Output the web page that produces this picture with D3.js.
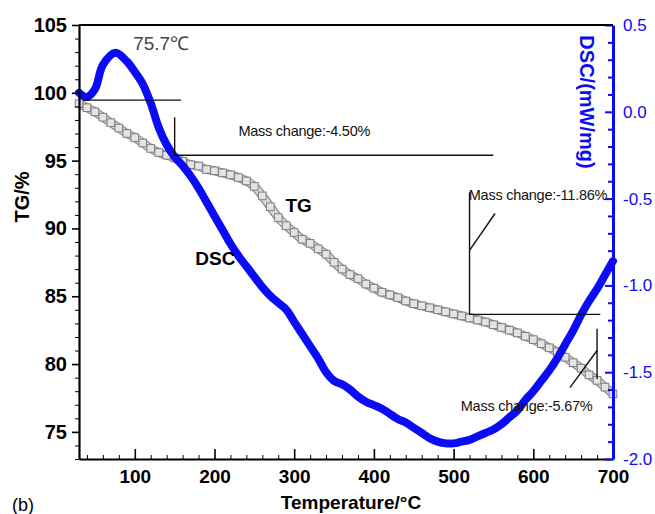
<!DOCTYPE html>
<html lang="en">
<head>
<meta charset="utf-8">
<title>TG / DSC</title>
<script src="https://cdn.jsdelivr.net/npm/d3@7"></script>
<style>
  body { margin: 0; background: #fff; }
  text { font-family: Arial, "Liberation Sans", sans-serif; }
</style>
</head>
<body>
<script>
// TG curve, one reading every 10 C
var tgTemp = [30,40,50,60,70,80,90,100,110,120,130,140,150,160,170,180,190,200,210,220,
  230,240,250,260,270,280,290,300,310,320,330,340,350,360,370,380,390,400,410,420,
  430,440,450,460,470,480,490,500,510,520,530,540,550,560,570,580,590,600,610,620,
  630,640,650,660,670,680,690,700];
var tgValue = [99.2,98.9,98.6,98.2,97.8,97.4,97.0,96.7,96.3,95.9,95.6,95.4,95.2,94.95,94.7,94.6,94.35,94.25,94.1,93.95,
  93.75,93.5,93.1,92.4,91.6,90.8,90.2,89.7,89.2,88.9,88.5,88.1,87.5,87.0,86.6,86.3,85.9,85.6,85.3,85.1,
  84.9,84.65,84.45,84.3,84.15,84.0,83.85,83.7,83.55,83.4,83.25,83.1,82.9,82.7,82.5,82.3,82.05,81.8,81.5,81.2,
  80.9,80.5,80.1,79.7,79.2,78.8,78.3,77.8];

// DSC curve
var dscTemp = [30,40,50,60,75.7,90,100,110,120,130,140,150,160,170,180,190,200,210,220,230,
  240,250,260,270,280,290,300,310,320,330,340,350,360,370,380,390,400,410,420,430,
  440,450,460,470,480,490,500,510,520,530,540,550,560,570,580,590,600,610,620,630,
  640,650,660,670,680,690,700];
var dscValue = [0.11,0.085,0.13,0.27,0.34,0.29,0.23,0.16,0.05,-0.09,-0.19,-0.26,-0.31,-0.37,-0.44,-0.52,-0.60,-0.68,-0.76,-0.83,
  -0.89,-0.95,-1.01,-1.06,-1.10,-1.14,-1.21,-1.28,-1.35,-1.42,-1.50,-1.55,-1.57,-1.60,-1.64,-1.67,-1.69,-1.71,-1.74,-1.77,
  -1.79,-1.82,-1.85,-1.88,-1.90,-1.91,-1.91,-1.90,-1.89,-1.87,-1.85,-1.83,-1.80,-1.76,-1.72,-1.66,-1.61,-1.55,-1.49,-1.42,
  -1.34,-1.26,-1.17,-1.09,-1.02,-0.94,-0.86];

var xTicks = [100,200,300,400,500,600,700];
var tgTicks = [75,80,85,90,95,100,105];
var dscTicks = [-2.0,-1.5,-1.0,-0.5,0.0,0.5];

// annotation segments, in [temperature, TG] units
var markLines = [
  [[35,99.46],[158,99.46]],
  [[150,98.2],[150,95.4]],
  [[150,95.4],[550,95.4]],
  [[520,92.67],[520,83.66]],
  [[520,83.66],[684,83.66]],
  [[520,88.38],[552,91.1]],
  [[680,82.6],[680,78.9]],
  [[646,78.26],[680,81.0]]
];
var markTexts = [
  {t: 230, v: 96.8, label: "Mass change:-4.50%"},
  {t: 519, v: 92.1, label: "Mass change:-11.86%"},
  {t: 509, v: 76.56, label: "Mass change:-5.67%"}
];

var W = 655, H = 514;
var svg = d3.select("body").append("svg")
  .attr("width", W).attr("height", H);

var x = d3.scaleLinear().domain([30,700]).range([79,613]);
var yTG = d3.scaleLinear().domain([73,105]).range([459,25]);
var yDSC = d3.scaleLinear().domain([-2,0.5]).range([459,25]);

var blue = "#0b0bf5";

// TG band + squares
var tgData = tgTemp.map(function(t,i){ return [t, tgValue[i]]; });
var tgLine = d3.line().curve(d3.curveCatmullRom)
  .x(function(d){ return x(d[0]); }).y(function(d){ return yTG(d[1]); });
svg.append("path")
  .datum(tgData)
  .attr("fill", "none")
  .attr("stroke", "#8c8c8c")
  .attr("stroke-width", 9)
  .attr("d", tgLine);
svg.append("path")
  .datum(tgData)
  .attr("fill", "none")
  .attr("stroke", "#dadada")
  .attr("stroke-width", 6.5)
  .attr("d", tgLine);
svg.selectAll("rect.tg")
  .data(tgData)
  .enter().append("rect")
  .attr("class","tg")
  .attr("x", function(d){ return x(d[0]) - 3.8; })
  .attr("y", function(d){ return yTG(d[1]) - 3.8; })
  .attr("width", 7.6).attr("height", 7.6)
  .attr("fill", "#e4e4e4")
  .attr("stroke", "#808080")
  .attr("stroke-width", 1);

// DSC
var dscData = dscTemp.map(function(t,i){ return [t, dscValue[i]]; });
svg.append("path")
  .datum(dscData)
  .attr("fill", "none")
  .attr("stroke", blue)
  .attr("stroke-width", 8)
  .attr("stroke-linejoin", "round")
  .attr("stroke-linecap", "round")
  .attr("d", d3.line().curve(d3.curveCatmullRom)
    .x(function(d){ return x(d[0]); }).y(function(d){ return yDSC(d[1]); }));

// annotations
svg.selectAll("line.mark")
  .data(markLines)
  .enter().append("line")
  .attr("class","mark")
  .attr("x1", function(d){ return x(d[0][0]); })
  .attr("y1", function(d){ return yTG(d[0][1]); })
  .attr("x2", function(d){ return x(d[1][0]); })
  .attr("y2", function(d){ return yTG(d[1][1]); })
  .attr("stroke", "#111")
  .attr("stroke-width", 1.4);
svg.selectAll("text.mark")
  .data(markTexts)
  .enter().append("text")
  .attr("class","mark")
  .attr("x", function(d){ return x(d.t); })
  .attr("y", function(d){ return yTG(d.v); })
  .attr("font-size", 14.5)
  .attr("letter-spacing", -0.25)
  .attr("fill", "#111")
  .text(function(d){ return d.label; });

svg.append("text")
  .attr("x", x(98)).attr("y", yTG(103.15))
  .attr("font-size", 19).attr("fill", "#444")
  .text("75.7℃");
svg.append("text")
  .attr("x", x(289)).attr("y", yTG(91.2))
  .attr("font-size", 19).attr("font-weight", "bold")
  .text("TG");
svg.append("text")
  .attr("x", x(176)).attr("y", yTG(87.27))
  .attr("font-size", 19).attr("font-weight", "bold")
  .text("DSC");

// axes
var axL = svg.append("g").attr("transform", "translate(79,0)")
  .call(d3.axisLeft(yTG).tickValues(tgTicks).tickSize(7).tickPadding(5).tickSizeOuter(0));
axL.selectAll("text").attr("font-size", 20).attr("font-weight", "bold").attr("font-family", null);
svg.append("g").attr("transform", "translate(79,0)")
  .call(d3.axisLeft(yTG).tickValues(d3.range(73,106).filter(function(v){ return v % 5; }))
    .tickSize(4).tickFormat("").tickSizeOuter(0))
  .select(".domain").remove();

var axB = svg.append("g").attr("transform", "translate(0,459)")
  .call(d3.axisBottom(x).tickValues(xTicks).tickSize(-10).tickPadding(11).tickSizeOuter(0));
axB.selectAll("text").attr("font-size", 19).attr("font-weight", "bold").attr("font-family", null);
svg.append("g").attr("transform", "translate(0,459)")
  .call(d3.axisBottom(x).tickValues(d3.range(40,700,20).filter(function(v){ return v % 100; }))
    .tickSize(-4).tickFormat("").tickSizeOuter(0))
  .select(".domain").remove();

var axR = svg.append("g").attr("transform", "translate(613,0)")
  .call(d3.axisRight(yDSC).tickValues(dscTicks).tickSize(-8).tickPadding(10).tickSizeOuter(0)
    .tickFormat(function(d){ return d.toFixed(1); }));
axR.selectAll("text").attr("font-size", 17).attr("fill", blue).attr("font-family", null);
axR.selectAll("line").attr("stroke", blue);
axR.select(".domain").attr("stroke", blue);
var axRm = svg.append("g").attr("transform", "translate(613,0)")
  .call(d3.axisRight(yDSC).tickValues(d3.range(-19,5).map(function(v){ return v / 10; })
      .filter(function(v){ return Math.abs(Math.round(v * 10)) % 5; }))
    .tickSize(-5).tickFormat("").tickSizeOuter(0));
axRm.select(".domain").remove();
axRm.selectAll("line").attr("stroke", blue).attr("stroke-width", 2);

svg.selectAll(".domain").attr("stroke-width", 2.2);
axL.selectAll(".tick line").attr("stroke-width", 1.6);
axB.selectAll(".tick line").attr("stroke-width", 1.6);
axR.selectAll(".tick line").attr("stroke-width", 2);
axR.select(".domain").attr("stroke-width", 3);

// top frame
svg.append("line")
  .attr("x1", 79).attr("x2", 613).attr("y1", 25).attr("y2", 25)
  .attr("stroke", "#000").attr("stroke-width", 2.2);

// titles
svg.append("text")
  .attr("transform", "translate(29,197) rotate(-90)")
  .attr("text-anchor", "middle")
  .attr("font-size", 20).attr("font-weight", "bold")
  .text("TG/%");
svg.append("text")
  .attr("transform", "translate(580,102) rotate(90)")
  .attr("text-anchor", "middle")
  .attr("font-size", 20).attr("font-weight", "bold").attr("fill", blue)
  .text("DSC/(mW/mg)");
svg.append("text")
  .attr("x", 351).attr("y", 509)
  .attr("text-anchor", "middle")
  .attr("font-size", 19).attr("font-weight", "bold")
  .text("Temperature/°C");
svg.append("text")
  .attr("x", 12).attr("y", 511)
  .attr("font-size", 18)
  .text("(b)");
</script>
</body>
</html>
